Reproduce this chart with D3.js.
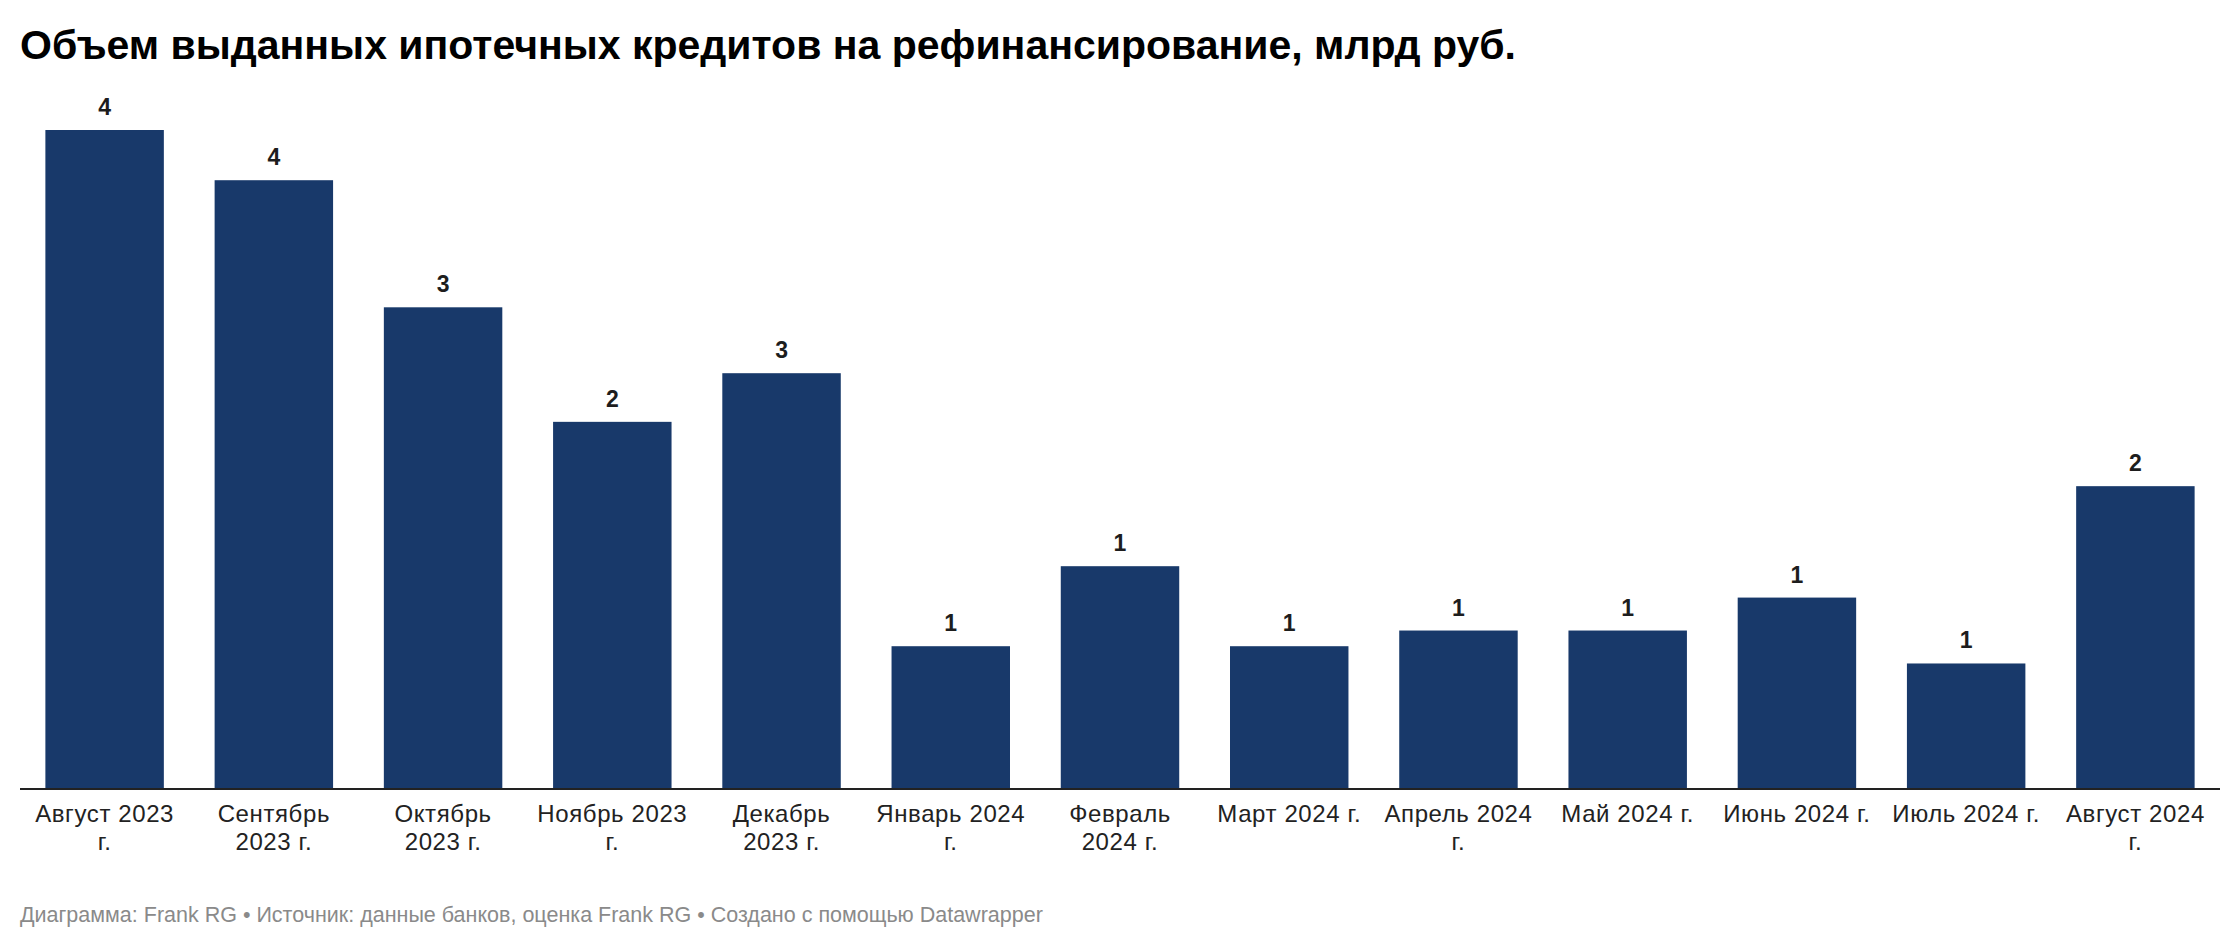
<!DOCTYPE html>
<html>
<head>
<meta charset="utf-8">
<script src="https://cdn.jsdelivr.net/npm/d3@7"></script>
<style>
  html, body { margin: 0; padding: 0; background: #fff; }
  svg { display: block; }
</style>
</head>
<body>
<svg id="chart" width="2240" height="948"></svg>
<script>
const titleText = "Объем выданных ипотечных кредитов на рефинансирование, млрд руб.";
const footerText = "Диаграмма: Frank RG • Источник: данные банков, оценка Frank RG • Создано с помощью Datawrapper";
const categories = [
  "Август 2023 г.", "Сентябрь 2023 г.", "Октябрь 2023 г.", "Ноябрь 2023 г.",
  "Декабрь 2023 г.", "Январь 2024 г.", "Февраль 2024 г.", "Март 2024 г.",
  "Апрель 2024 г.", "Май 2024 г.", "Июнь 2024 г.", "Июль 2024 г.", "Август 2024 г."
];
const values = [4.2, 3.88, 3.07, 2.34, 2.65, 0.91, 1.42, 0.91, 1.01, 1.01, 1.22, 0.80, 1.93];

const W = 2240, H = 948;
const left = 20, right = 2220, baseY = 789, topY = 130;
const svg = d3.select("#chart");
const font = "'Liberation Sans', Arial, Helvetica, sans-serif";

svg.append("text")
  .attr("x", 20).attr("y", 59)
  .attr("font-family", font).attr("font-weight", 700).attr("font-size", 41)
  .attr("fill", "#000")
  .text(titleText);

const x = d3.scaleBand().domain(categories).range([left, right])
  .paddingInner(0.3).paddingOuter(0.15);
const y = d3.scaleLinear().domain([0, d3.max(values)]).range([baseY, topY]);

const data = categories.map((c, i) => ({ c, v: values[i] }));

svg.append("g").selectAll("rect").data(data).join("rect")
  .attr("x", d => x(d.c)).attr("width", x.bandwidth())
  .attr("y", d => y(d.v)).attr("height", d => y(0) - y(d.v))
  .attr("fill", "#18396a");

svg.append("g").selectAll("text").data(data).join("text")
  .attr("x", d => x(d.c) + x.bandwidth() / 2)
  .attr("y", d => y(d.v) - 15)
  .attr("text-anchor", "middle")
  .attr("font-family", font).attr("font-weight", 700).attr("font-size", 23)
  .attr("fill", "#1d1d1d")
  .text(d => d3.format(".0f")(d.v));

// axis
const axis = d3.axisBottom(x).tickSize(0).tickPadding(0);
const gAxis = svg.append("g").attr("transform", `translate(0,${baseY})`).call(axis);
gAxis.select(".domain").attr("stroke", "#222").attr("stroke-width", 2)
  .attr("d", `M${left},0H${right}`);
gAxis.selectAll(".tick text")
  .attr("font-family", font).attr("font-size", 24).attr("fill", "#222")
  .attr("letter-spacing", 0.6)
  .attr("y", 0).attr("dy", null)
  .each(function(d) {
    const t = d3.select(this);
    const words = d.split(" ");
    t.text(null);
    const maxW = 150;
    let lines = [], cur = [];
    const probe = t.append("tspan");
    words.forEach(w => {
      const test = cur.concat([w]).join(" ");
      probe.text(test);
      if (probe.node().getComputedTextLength() > maxW && cur.length) {
        lines.push(cur.join(" ")); cur = [w];
      } else cur.push(w);
    });
    lines.push(cur.join(" "));
    probe.remove();
    lines.forEach((ln, i) => {
      t.append("tspan").attr("x", 0).attr("y", 33 + i * 28).text(ln);
    });
  });

svg.append("text")
  .attr("x", 20).attr("y", 922)
  .attr("font-family", font).attr("font-size", 21.5)
  .attr("fill", "#8a8a8a")
  .text(footerText);
</script>
</body>
</html>
